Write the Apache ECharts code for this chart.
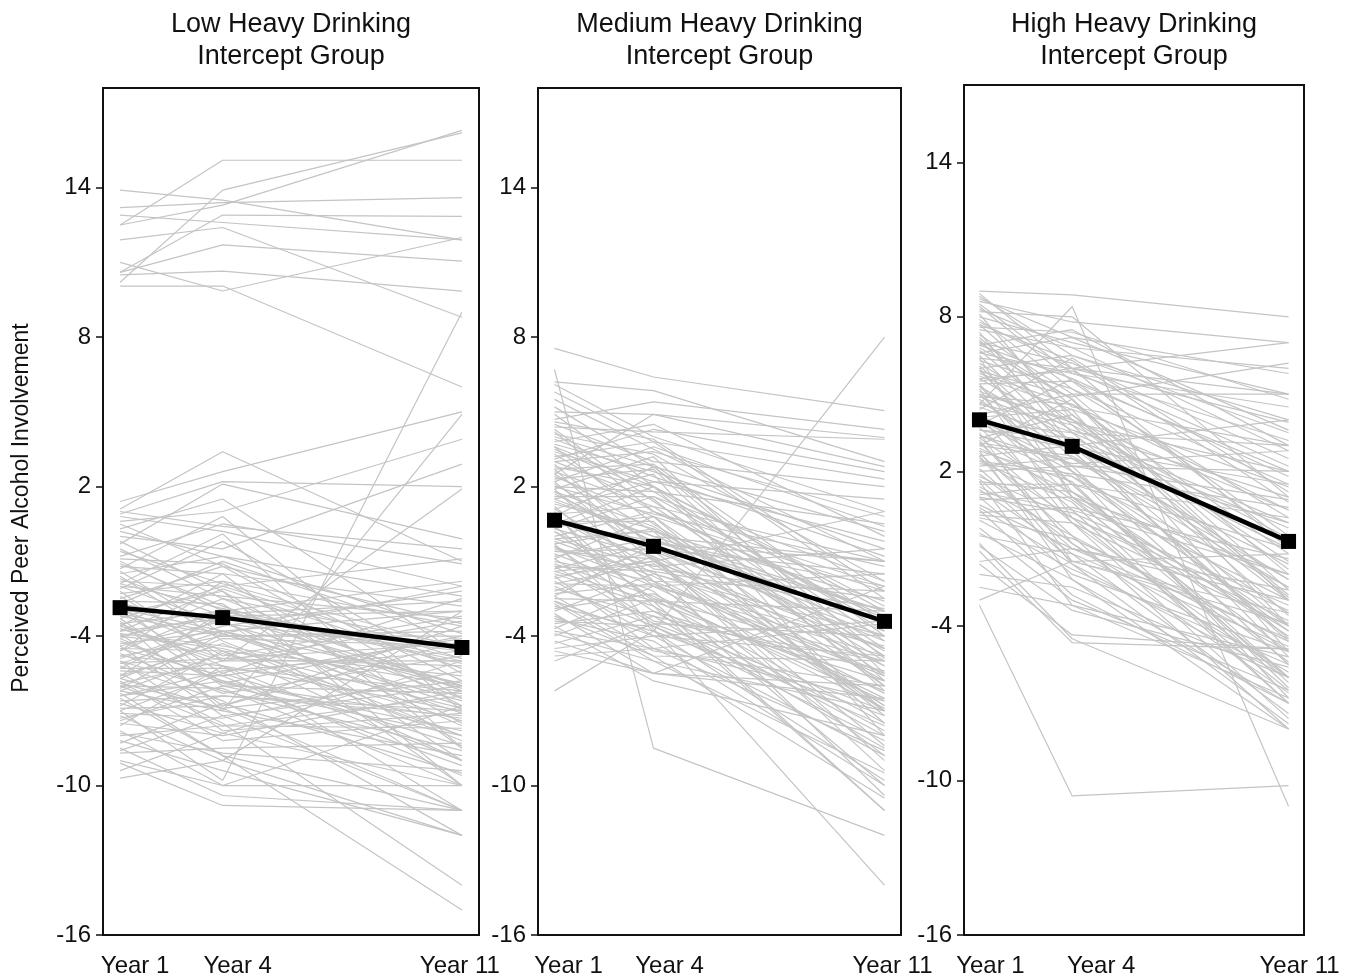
<!DOCTYPE html>
<html>
<head>
<meta charset="utf-8">
<title>Perceived Peer Alcohol Involvement</title>
<script src="https://cdn.jsdelivr.net/npm/echarts@6/dist/echarts.min.js"></script>
<style>
  html, body { margin: 0; padding: 0; background: #fff; }
  #main { width: 1360px; height: 980px; }
</style>
</head>
<body>
<div id="main"></div>
<script>
// measurement years (x positions)
const years = [1, 4, 11]
const yTicks = [-16, -10, -4, 2, 8, 14]
const panelTitles = [
  'Low Heavy Drinking\nIntercept Group',
  'Medium Heavy Drinking\nIntercept Group',
  'High Heavy Drinking\nIntercept Group'
]
const yTitle = 'Perceived Peer Alcohol Involvement'

// group means (black line), values at Year 1 / 4 / 11
const lowMean = [-2.86, -3.26, -4.46]
const mediumMean = [0.65, -0.4, -3.41]
const highMean = [4.0, 2.97, -0.72]

// individual trajectories, [Year 1, Year 4, Year 11]
const lowLines = [
  [12.5, 15.1, 15.1], [10.2, 13.9, 16.2], [12.5, 13.3, 16.3], [13.9, 13.5, 11.9],
  [13.2, 13.4, 13.6], [12.9, 12.6, 11.9], [10.6, 12.9, 12.85], [11.9, 12.4, 8.8],
  [10.6, 11.7, 11.05], [10.5, 10.65, 9.85], [10.05, 10.05, 6.0], [11.0, 9.85, 12.0],
  [1.4, 2.6, 5.0], [1.1, 3.4, -1.0], [0.9, 2.2, 2.0], [0.6, 1.0, 3.9],
  [0.5, -1.2, -3.5], [0.8, 0.2, -2.0], [0.3, 1.5, -4.8], [0.0, -0.5, 2.9],
  [-0.3, 2.1, -0.1], [-0.5, -2.5, -6.2], [-0.8, 0.5, -1.1], [-1.0, -3.0, -5.1],
  [-1.2, -1.5, -2.8], [-1.3, 0.8, -7.0], [-1.5, -0.8, -3.9], [-1.6, -4.2, -8.0],
  [-1.8, -2.0, -0.9], [-2.0, -3.5, -4.6], [-2.1, -0.2, -5.5], [-2.3, -1.8, -6.8],
  [-2.4, -4.8, -3.2], [-2.6, -2.7, -9.0], [-2.7, -1.0, -4.2], [-2.9, -3.8, -5.9],
  [-3.0, -5.5, -2.5], [-3.1, -2.2, -7.5], [-3.2, -4.0, -4.0], [-3.3, -6.0, -6.3],
  [-3.5, -3.0, -1.8], [-3.6, -1.5, -8.5], [-3.7, -5.0, -5.0], [-3.8, -3.3, -10.0],
  [-3.9, -6.8, -3.6], [-4.0, -4.5, -6.9], [-4.1, -2.5, -4.4], [-4.2, -5.8, -7.8],
  [-4.3, -3.8, -3.0], [-4.4, -7.2, -11.0], [-4.5, -4.6, -5.6], [-4.6, -2.9, -6.5],
  [-4.7, -6.3, -4.8], [-4.8, -5.2, -9.0], [-4.9, -3.6, -2.2], [-5.0, -7.8, -7.1],
  [-5.1, -4.9, -5.2], [-5.2, -6.6, -12.0], [-5.3, -3.2, -6.0], [-5.4, -5.6, -4.1],
  [-5.5, -7.5, -14.0], [-5.6, -4.3, -8.2], [-5.7, -6.9, -5.8], [-5.8, -8.2, -7.4],
  [-5.9, -5.0, -3.4], [-6.0, -6.1, -10.0], [-6.1, -3.9, -6.6], [-6.2, -7.0, -8.8],
  [-6.3, -8.8, -11.0], [-6.4, -5.4, -4.6], [-6.5, -8.8, -15.0], [-6.6, -6.4, -7.0],
  [-6.8, -4.6, -9.0], [-7.0, -9.8, 9.0], [-7.1, -7.3, -5.4], [-7.2, -9.0, -12.0],
  [-7.4, -6.0, -8.0], [-7.5, -8.0, -6.2], [-7.6, -5.2, -11.0], [-7.8, -10.0, -10.0],
  [-8.0, -7.6, -7.7], [-8.2, -9.4, -12.0], [-8.3, -6.7, -9.5], [-8.5, -10.4, -11.0],
  [-8.7, -8.5, -8.3], [-9.0, -10.0, -6.8], [-9.1, -10.8, -11.0], [-9.4, -7.9, -10.0],
  [-9.7, -9.0, -3.0], [-2.2, -5.0, 1.9], [-3.4, -7.0, 4.9], [-1.9, 0.1, -8.5],
  [-0.2, -2.2, -10.0], [-4.6, -1.8, -3.6], [-2.8, -5.9, -7.3], [-3.9, -4.4, -6.0],
  [-5.6, -3.0, -5.0], [-6.9, -6.8, -4.2],
  [-0.6, -1.9, -4.5], [-1.1, -2.8, -6.0], [-1.7, -3.2, -3.0], [-2.5, -1.2, -6.5],
  [-2.9, -4.6, -8.0], [-3.1, -3.9, -2.0], [-3.5, -5.2, -7.0], [-3.8, -2.1, -5.3],
  [-4.1, -5.9, -4.0], [-4.4, -3.4, -7.6], [-4.8, -4.0, -3.8], [-5.0, -6.2, -8.6],
  [-5.3, -5.3, -6.2], [-5.7, -4.1, -4.4], [-6.0, -7.6, -6.4], [-6.4, -5.8, -9.2],
  [-6.7, -7.9, -5.0], [-7.3, -6.4, -7.2], [-7.9, -8.7, -9.4], [-8.6, -7.2, -6.0],
  [-2.0, -2.4, -3.3], [-1.4, -3.9, -7.1], [-0.9, -1.1, -5.8], [-3.3, -2.0, -4.9],
  [-4.5, -5.6, -9.6], [-5.9, -6.9, -11.0], [-2.7, -3.5, -6.1], [-4.0, -3.1, -2.6],
  [-6.2, -4.7, -7.4], [-3.6, -4.9, -4.3], [0.2, -0.8, -2.4], [1.0, 0.4, -0.5],
  [-1.9, -2.9, -4.9], [-5.1, -3.8, -6.8], [-7.0, -5.5, -8.4]
]

const mediumLines = [
  [7.55, 6.4, 5.05], [6.7, -8.5, -12.0], [6.2, 5.85, 3.0], [6.1, 4.0, 1.0],
  [5.5, 3.5, -1.0], [5.0, 4.9, 3.97], [4.9, 2.0, -3.0], [4.5, 3.0, 2.0],
  [4.4, 4.2, 3.9], [4.2, 1.0, -2.0], [4.0, 2.8, -4.0], [3.8, 4.5, 0.0],
  [3.6, 0.5, -5.0], [3.4, 2.2, 1.5], [3.2, 3.8, -2.5], [3.0, 1.5, -6.0],
  [2.9, -0.5, -1.5], [2.7, 2.9, -3.5], [2.5, 4.9, 2.8], [2.4, 0.8, -7.0],
  [2.2, -1.0, -4.5], [2.0, 1.8, 0.5], [1.9, 3.2, -5.5], [1.7, -0.2, -2.0],
  [1.5, 2.5, -8.0], [1.4, 0.0, -3.0], [1.2, -2.0, -6.5], [1.0, -3.7, -14.0],
  [0.9, 1.2, -1.0], [0.8, -1.5, -4.0], [0.6, 0.6, -7.5], [0.5, 2.0, -2.8],
  [0.3, -0.8, -9.0], [0.2, -2.5, -5.0], [0.0, 1.0, -3.2], [-0.1, -1.2, -0.5],
  [-0.3, 0.3, -6.0], [-0.4, -3.0, -8.0], [-0.6, -0.5, -4.2], [-0.7, -2.2, -10.0],
  [-0.9, 0.8, -2.2], [-1.0, -1.8, -5.5], [-1.2, -3.5, -7.0], [-1.3, -0.3, -3.8],
  [-1.5, -2.8, -11.0], [-1.6, -1.0, -6.8], [-1.8, -4.0, -4.8], [-1.9, -2.0, -1.5],
  [-2.1, -3.2, -8.5], [-2.2, -0.8, -5.2], [-2.4, -4.6, -6.0], [-2.5, -2.6, -3.0],
  [-2.7, -5.0, -9.5], [-2.8, -3.8, -7.2], [-3.0, -1.5, -4.5], [-3.1, -5.5, -6.5],
  [-3.3, -4.2, -10.0], [-3.5, -3.0, -5.8], [-3.6, -5.8, -8.0], [-3.8, -4.5, -3.5],
  [-4.0, -2.5, -7.5], [-4.2, -5.5, -6.0], [-4.5, -4.0, -8.8], [-4.6, -5.5, -2.0],
  [-5.0, -3.5, -4.0], [-6.2, -3.8, 8.0], [3.5, 1.8, -3.8], [2.6, 1.2, -4.8],
  [1.8, 0.4, -5.2], [0.7, -0.9, -5.8], [-0.2, -1.6, -6.3], [-1.1, -2.4, -6.6],
  [2.1, -0.3, -7.0], [1.1, -1.3, -2.5], [3.9, 2.4, -0.8], [5.8, 3.8, 2.3],
  [4.7, 5.4, 4.3], [-1.4, -1.0, 1.0], [0.4, -2.6, -11.0], [-2.6, -4.8, -10.5],
  [4.1, 3.3, -1.8], [3.7, 2.6, -0.5], [3.3, 1.0, -3.3], [3.0, 3.4, 0.8],
  [2.8, 2.0, -4.2], [2.5, 0.2, -2.6], [2.3, 2.7, -5.8], [2.0, 0.9, -1.2],
  [1.8, -0.6, -6.8], [1.6, 1.6, -3.6], [1.3, 0.3, -4.6], [1.1, 2.2, -0.2],
  [0.9, -2.8, -7.8], [0.6, -0.2, -3.0], [0.4, 0.8, -5.6], [0.2, -1.8, -2.2],
  [-0.1, 0.2, -7.2], [-0.4, -2.0, -4.4], [-0.6, -0.9, -8.4], [-0.9, -3.4, -5.0],
  [-1.2, -1.4, -2.9], [-1.4, -2.6, -6.2], [-1.7, -0.6, -4.0], [-2.0, -3.6, -7.6],
  [-2.3, -1.9, -5.6], [-2.6, -4.0, -3.4], [-2.9, -2.3, -6.9], [-3.2, -4.8, -5.0],
  [-3.4, -3.6, -8.2], [-3.9, -5.0, -7.0], [-4.3, -3.2, -5.4], [-4.8, -4.5, -6.6],
  [5.2, 2.8, 0.2], [4.6, 3.9, -2.2], [3.1, 4.3, 2.6], [2.2, 3.6, 0.4],
  [1.5, 0.0, -1.0], [0.3, 1.6, -1.8], [-0.8, -0.1, -3.5], [-1.9, -1.1, -7.0],
  [2.7, -0.9, -9.4], [1.9, -1.8, -8.8], [-0.3, -3.8, -9.8], [-1.6, -4.5, -8.6],
  [3.6, 2.0, -6.2], [0.8, 2.8, -4.9], [-2.4, -0.3, -1.0], [-3.7, -2.0, -4.8],
  [4.3, 1.4, -4.5], [-0.5, -1.4, -10.4]
]

const highLines = [
  [9.0, 8.85, 8.0], [8.8, 6.5, 4.0], [8.6, 7.8, 7.0], [8.4, 5.5, 2.0],
  [8.2, 8.0, 1.0], [8.0, 7.0, 5.0], [7.8, 6.0, -1.0], [7.7, 4.5, 3.0],
  [7.5, 6.8, 6.0], [7.3, 5.0, -2.0], [7.1, 3.5, 0.0], [7.0, 6.2, 2.5],
  [6.8, 4.8, -3.0], [6.6, 5.8, 4.5], [6.5, 3.0, -4.0], [6.3, 5.2, 1.5],
  [6.2, 4.0, -1.5], [6.0, 6.5, 3.5], [5.9, 2.5, -2.5], [5.7, 4.4, -5.0],
  [5.6, 3.6, 1.0], [5.4, 5.5, -0.5], [5.3, 2.0, -3.5], [5.1, 3.9, 2.0],
  [5.0, 1.5, -6.0], [4.9, 4.6, 0.5], [4.7, 2.8, -4.5], [4.6, 8.4, -11.0],
  [4.5, 3.2, -1.0], [4.3, 1.0, -2.0], [4.2, 5.0, 5.0], [4.0, 2.2, -5.5],
  [3.9, 3.5, -3.0], [3.7, 0.5, -7.0], [3.6, 2.9, 1.5], [3.4, 1.8, -4.0],
  [3.3, 4.2, -1.8], [3.1, 0.0, -6.0], [3.0, 2.5, 0.0], [2.9, 1.2, -3.0],
  [2.7, -0.5, -5.0], [2.6, 3.0, 4.0], [2.4, 0.8, -7.0], [2.3, 1.8, -2.5],
  [2.1, -1.0, -4.5], [2.0, 2.2, 2.0], [1.8, 0.2, -6.5], [1.7, -1.5, -3.5],
  [1.5, 1.5, -1.0], [1.4, -0.5, -8.0], [1.2, 0.5, -2.0], [1.0, -2.0, -5.0],
  [0.9, 1.0, -6.0], [0.7, -1.0, -3.0], [0.5, -2.8, -7.0], [0.3, 0.0, -4.0],
  [0.1, -1.8, -5.5], [-0.2, -3.0, -6.5], [-0.5, -1.2, -4.8], [-0.8, -4.5, -8.0],
  [-1.1, -4.65, -4.9], [-1.6, -4.35, -4.9], [-2.0, -2.5, -6.0], [-3.0, -1.48, -3.9],
  [-3.2, -10.6, -10.2], [6.9, 7.5, 3.0], [5.5, 6.0, 7.0], [4.4, 6.4, 1.2],
  [3.8, 5.6, -0.8], [8.9, 6.0, 5.0], [8.1, 4.0, 0.5], [6.4, 1.0, -4.2],
  [5.2, 0.2, -3.8], [2.8, -2.2, -8.0], [1.6, -3.2, -6.8], [7.4, 3.0, -2.2],
  [3.5, -1.5, -1.2],
  [8.7, 7.2, 3.6], [8.3, 6.8, 2.8], [7.9, 5.2, 0.2], [7.6, 7.4, 4.8],
  [7.2, 4.2, -2.8], [6.9, 5.6, 1.8], [6.7, 3.8, -0.6], [6.4, 6.0, 3.9],
  [6.1, 2.8, -4.6], [5.8, 4.6, -1.2], [5.6, 5.9, 2.2], [5.3, 3.2, -5.2],
  [5.0, 4.0, -2.9], [4.8, 2.2, 0.9], [4.6, 3.8, -3.6], [4.3, 1.5, -6.2],
  [4.1, 4.4, 1.4], [3.9, 2.0, -4.2], [3.6, 3.3, -0.2], [3.3, 0.9, -5.4],
  [3.1, 2.6, -2.2], [2.8, 1.6, -6.4], [2.5, 0.2, -3.4], [2.2, 2.5, -1.6],
  [1.9, -0.8, -5.8], [1.6, 1.2, -4.4], [1.3, -1.2, -7.4], [1.0, 0.4, -3.2],
  [0.6, -1.6, -6.0], [0.2, -0.6, -4.6], [-0.4, -2.2, -7.0], [-0.9, -3.4, -5.6],
  [7.0, 4.8, -4.0], [6.0, 2.0, -6.8], [5.4, 1.2, -5.0], [4.2, 0.0, -7.6],
  [3.2, -0.8, -6.6], [2.6, -1.6, -7.8], [8.5, 5.8, 3.2], [7.7, 6.3, 0.8],
  [6.6, 7.2, 5.8], [5.9, 4.9, 6.2], [4.9, 3.5, 3.0], [3.4, 2.3, 2.8],
  [2.4, 1.9, 0.6], [1.1, 1.5, 0.2], [0.4, 0.6, -1.4], [-1.5, -1.0, -2.6],
  [-2.5, -3.2, -5.2], [3.0, 4.8, -2.6]
]

// per panel: label nudges (px) for Year 1 / 4 / 11, y max
const labelShift = [[15, 15, -2], [14, 16, 8], [11, 29, 11]]
const yMax = [18, 18, 17]
const grids = [
  { left: 103, top: 88, width: 376, height: 847 },
  { left: 538, top: 88, width: 363, height: 847 },
  { left: 964, top: 85, width: 340, height: 850 }
]

const font = 'Liberation Sans, Arial, sans-serif'
const grey = '#c4c4c4'

function buildOption() {
  const panels = [
    { lines: lowLines, mean: lowMean },
    { lines: mediumLines, mean: mediumMean },
    { lines: highLines, mean: highMean }
  ]
  const series = []
  const xAxis = []
  const yAxis = []
  const graphic = []

  panels.forEach((p, i) => {
    const shift = labelShift[i]
    const rich = {}
    shift.forEach((s, k) => {
      rich['s' + k] = {
        fontSize: 24, fontFamily: font, color: '#111',
        padding: s >= 0 ? [0, 0, 0, 2 * s] : [0, -2 * s, 0, 0]
      }
    })
    xAxis.push({
      type: 'value', gridIndex: i, min: 0.5, max: 11.5,
      axisLine: { show: false },
      axisTick: { show: false },
      splitLine: { show: false },
      axisLabel: {
        customValues: years,
        margin: 19,
        formatter: v => `{s${years.indexOf(v)}|Year ${v}}`,
        rich: rich
      }
    })
    yAxis.push({
      type: 'value', gridIndex: i, min: -16, max: yMax[i],
      axisLine: { show: false },
      splitLine: { show: false },
      axisTick: {
        show: true, customValues: yTicks, length: 7,
        lineStyle: { color: '#111', width: 1.5 }
      },
      axisLabel: {
        customValues: yTicks, margin: 12,
        fontSize: 24, fontFamily: font, color: '#111'
      }
    })

    p.lines.forEach(l => {
      series.push({
        type: 'line', xAxisIndex: i, yAxisIndex: i,
        data: years.map((x, k) => [x, l[k]]),
        showSymbol: false, silent: true, z: 2,
        lineStyle: { color: grey, width: 1.2 }
      })
    })
    series.push({
      type: 'line', xAxisIndex: i, yAxisIndex: i,
      data: years.map((x, k) => [x, p.mean[k]]),
      symbol: 'rect', symbolSize: 15, z: 10,
      itemStyle: { color: '#000' },
      lineStyle: { color: '#000', width: 4.5 }
    })

    // panel title, centred over its box
    const g = grids[i]
    graphic.push({
      type: 'text', x: g.left + g.width / 2, y: 9,
      style: {
        text: panelTitles[i], textAlign: 'center', fill: '#111',
        font: '27px ' + font, lineHeight: 32
      }
    })
  })

  graphic.push({
    type: 'text', rotation: Math.PI / 2, x: 22, y: 508,
    style: {
      text: yTitle, textAlign: 'center', textVerticalAlign: 'middle',
      fill: '#111', font: '23px ' + font
    }
  })

  return {
    animation: false,
    backgroundColor: '#fff',
    grid: grids.map(g => Object.assign({
      show: true, borderColor: '#111', borderWidth: 2, backgroundColor: 'transparent'
    }, g)),
    xAxis, yAxis, series, graphic
  }
}

const chart = echarts.init(document.getElementById('main'))
chart.setOption(buildOption())
</script>
</body>
</html>
